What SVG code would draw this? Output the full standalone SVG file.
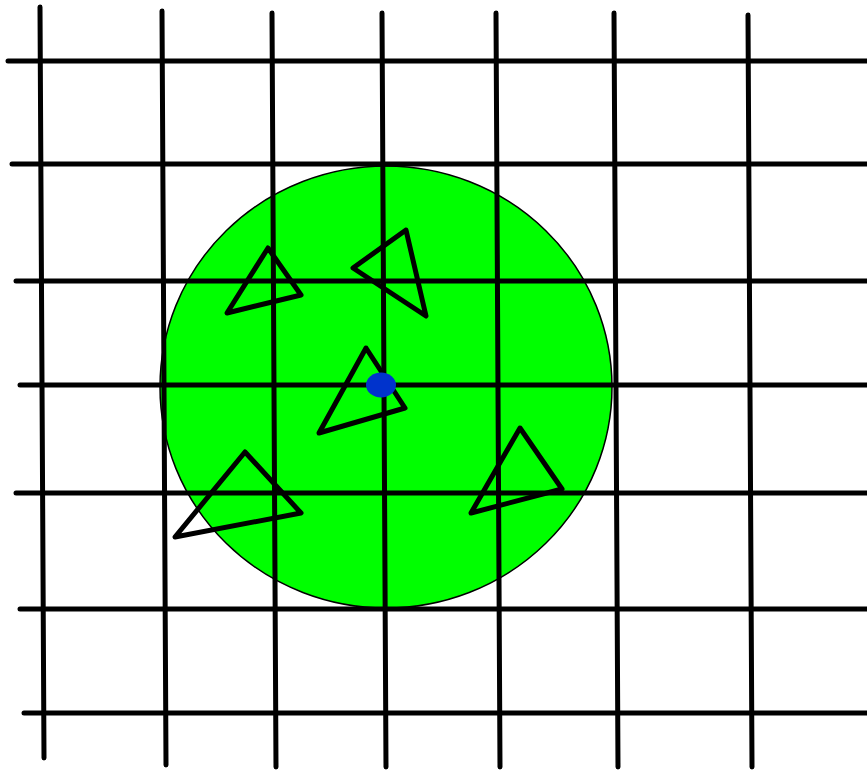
<svg xmlns="http://www.w3.org/2000/svg" width="867" height="770" viewBox="0 0 867 770">
<style>
.g{stroke:#000;stroke-width:5;stroke-linecap:round;fill:none}
.t{stroke:#000;stroke-width:5;stroke-linejoin:round;stroke-linecap:round;fill:none}
</style>
<rect width="867" height="770" fill="#fff"/>
<ellipse cx="386" cy="387" rx="226" ry="221" fill="#00ff00" stroke="#000" stroke-width="1.5"/>
<g id="grid">
<line class="g" x1="40" y1="7" x2="44" y2="758"/>
<line class="g" x1="162" y1="11" x2="166" y2="765"/>
<line class="g" x1="272" y1="13" x2="276" y2="767"/>
<line class="g" x1="382" y1="13" x2="386" y2="767"/>
<line class="g" x1="496" y1="13" x2="500" y2="767"/>
<line class="g" x1="614" y1="13" x2="618" y2="767"/>
<line class="g" x1="748" y1="15" x2="752" y2="767"/>
<line class="g" x1="8" y1="61" x2="869" y2="61"/>
<line class="g" x1="12" y1="164" x2="869" y2="164"/>
<line class="g" x1="16" y1="281" x2="869" y2="281"/>
<line class="g" x1="20" y1="385" x2="869" y2="385"/>
<line class="g" x1="16" y1="493" x2="869" y2="493"/>
<line class="g" x1="20" y1="609" x2="869" y2="609"/>
<line class="g" x1="24" y1="713" x2="869" y2="713"/>
</g>
<g id="triangles">
<polygon class="t" points="268,248 301,295 227,313"/>
<polygon class="t" points="406,230 353,268 426,316"/>
<polygon class="t" points="366,348 405,408 319,433"/>
<polygon class="t" points="245,452 301,513 175,537"/>
<polygon class="t" points="520,428 562,489 471,513"/>
</g>
<ellipse id="dot" cx="381" cy="385" rx="15" ry="12.5" fill="#0033cc"/>
</svg>
